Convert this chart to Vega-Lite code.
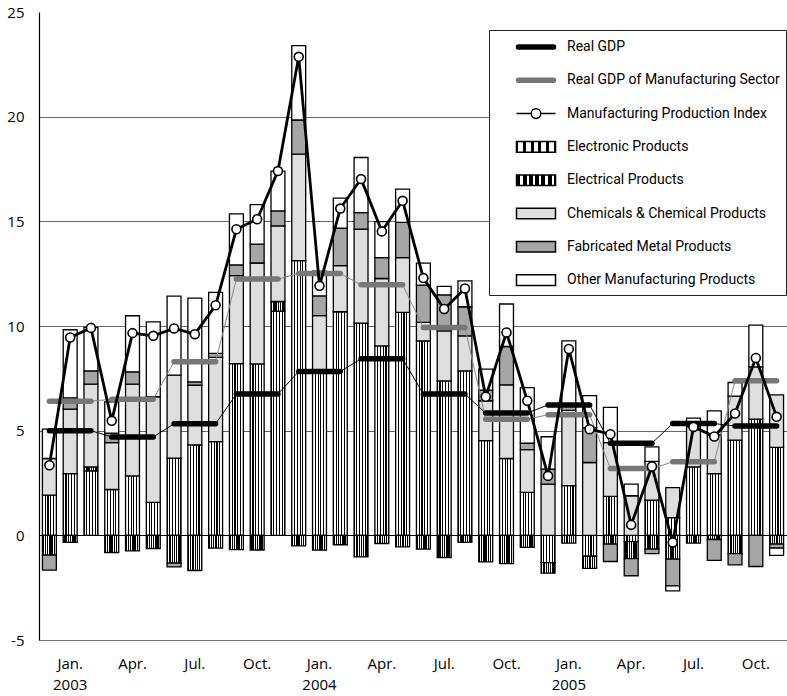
{
  "$schema": "https://vega.github.io/schema/vega-lite/v6.json",
  "width": 748,
  "height": 628,
  "autosize": {"type": "none"},
  "padding": {"left": 39, "top": 12, "right": 0, "bottom": 56},
  "background": "white",
  "config": {"view": {"stroke": null}, "font": "Open Sans"},
  "datasets": {
    "bars": [
      {"m": "2002-12", "s1": 1.92, "s2": -0.95, "s3": 1.75, "s4": -0.71, "s5": 1.4},
      {"m": "2003-01", "s1": 2.95, "s2": -0.34, "s3": 3.08, "s4": 0.54, "s5": 3.25},
      {"m": "2003-02", "s1": 3.08, "s2": 0.19, "s3": 3.95, "s4": 0.64, "s5": 2.07},
      {"m": "2003-03", "s1": 2.19, "s2": -0.82, "s3": 2.24, "s4": 0.45, "s5": 1.5},
      {"m": "2003-04", "s1": 2.84, "s2": -0.74, "s3": 4.38, "s4": 0.59, "s5": 2.68},
      {"m": "2003-05", "s1": 1.57, "s2": -0.63, "s3": 5.05, "s4": 0, "s5": 3.58},
      {"m": "2003-06", "s1": 3.69, "s2": -1.33, "s3": 3.96, "s4": -0.18, "s5": 3.78},
      {"m": "2003-07", "s1": 4.32, "s2": -1.68, "s3": 2.85, "s4": 0.16, "s5": 4.0},
      {"m": "2003-08", "s1": 4.48, "s2": -0.61, "s3": 4.02, "s4": 0.19, "s5": 2.92},
      {"m": "2003-09", "s1": 8.2, "s2": -0.68, "s3": 4.21, "s4": 0.51, "s5": 2.44},
      {"m": "2003-10", "s1": 8.19, "s2": -0.7, "s3": 4.82, "s4": 0.9, "s5": 1.89},
      {"m": "2003-11", "s1": 10.71, "s2": 0.46, "s3": 3.61, "s4": 0.72, "s5": 1.9},
      {"m": "2003-12", "s1": 13.12, "s2": -0.5, "s3": 5.09, "s4": 1.63, "s5": 3.55},
      {"m": "2004-01", "s1": 7.9, "s2": -0.71, "s3": 2.6, "s4": 0.94, "s5": 1.18},
      {"m": "2004-02", "s1": 10.68, "s2": -0.45, "s3": 2.2, "s4": 1.8, "s5": 1.43},
      {"m": "2004-03", "s1": 10.14, "s2": -1.03, "s3": 4.49, "s4": 0.79, "s5": 2.63},
      {"m": "2004-04", "s1": 9.05, "s2": -0.39, "s3": 3.22, "s4": 1.0, "s5": 1.72},
      {"m": "2004-05", "s1": 10.65, "s2": -0.55, "s3": 2.62, "s4": 1.68, "s5": 1.59},
      {"m": "2004-06", "s1": 9.29, "s2": -0.66, "s3": 0.88, "s4": 1.78, "s5": 1.05},
      {"m": "2004-07", "s1": 7.38, "s2": -1.06, "s3": 2.39, "s4": 1.72, "s5": 0.4},
      {"m": "2004-08", "s1": 7.86, "s2": -0.34, "s3": 1.67, "s4": 1.39, "s5": 1.24},
      {"m": "2004-09", "s1": 4.52, "s2": -1.27, "s3": 1.91, "s4": 0.51, "s5": 1.0},
      {"m": "2004-10", "s1": 3.67, "s2": -1.35, "s3": 3.52, "s4": 1.83, "s5": 2.03},
      {"m": "2004-11", "s1": 2.05, "s2": -0.58, "s3": 2.04, "s4": 0.31, "s5": 2.66},
      {"m": "2004-12", "s1": -1.3, "s2": -0.51, "s3": 2.45, "s4": 0.71, "s5": 1.55},
      {"m": "2005-01", "s1": 2.37, "s2": -0.37, "s3": 3.6, "s4": 0.3, "s5": 3.02},
      {"m": "2005-02", "s1": -1.0, "s2": -0.58, "s3": 3.48, "s4": 1.67, "s5": 1.52},
      {"m": "2005-03", "s1": 1.86, "s2": -0.42, "s3": 2.57, "s4": -0.83, "s5": 1.68},
      {"m": "2005-04", "s1": -0.3, "s2": -0.81, "s3": 1.89, "s4": -0.82, "s5": 0.56},
      {"m": "2005-05", "s1": 1.68, "s2": -0.66, "s3": 1.85, "s4": -0.21, "s5": 0.7},
      {"m": "2005-06", "s1": 0.85, "s2": -1.14, "s3": 1.43, "s4": -1.27, "s5": -0.24},
      {"m": "2005-07", "s1": 3.27, "s2": -0.37, "s3": 1.93, "s4": 0, "s5": 0.4},
      {"m": "2005-08", "s1": 2.95, "s2": -0.2, "s3": 1.85, "s4": -1.0, "s5": 1.15},
      {"m": "2005-09", "s1": 4.55, "s2": -0.87, "s3": 2.1, "s4": -0.54, "s5": 0.65},
      {"m": "2005-10", "s1": 5.55, "s2": 0, "s3": 2.5, "s4": -1.49, "s5": 1.99},
      {"m": "2005-11", "s1": 4.2, "s2": -0.42, "s3": 2.51, "s4": -0.19, "s5": -0.35}
    ],
    "lines": [
      {"m": "2002-12", "q": "Q01", "g": 5.0, "mg": 6.41, "p": 3.35},
      {"m": "2003-01", "q": "Q01", "g": 5.0, "mg": 6.41, "p": 9.45},
      {"m": "2003-02", "q": "Q01", "g": 5.0, "mg": 6.41, "p": 9.91},
      {"m": "2003-03", "q": "Q02", "g": 4.7, "mg": 6.5, "p": 5.47},
      {"m": "2003-04", "q": "Q02", "g": 4.7, "mg": 6.5, "p": 9.66},
      {"m": "2003-05", "q": "Q02", "g": 4.7, "mg": 6.5, "p": 9.53},
      {"m": "2003-06", "q": "Q03", "g": 5.33, "mg": 8.29, "p": 9.88},
      {"m": "2003-07", "q": "Q03", "g": 5.33, "mg": 8.29, "p": 9.61},
      {"m": "2003-08", "q": "Q03", "g": 5.33, "mg": 8.29, "p": 10.99},
      {"m": "2003-09", "q": "Q04", "g": 6.75, "mg": 12.24, "p": 14.62},
      {"m": "2003-10", "q": "Q04", "g": 6.75, "mg": 12.24, "p": 15.1},
      {"m": "2003-11", "q": "Q04", "g": 6.75, "mg": 12.24, "p": 17.4},
      {"m": "2003-12", "q": "Q05", "g": 7.83, "mg": 12.51, "p": 22.86},
      {"m": "2004-01", "q": "Q05", "g": 7.83, "mg": 12.51, "p": 11.92},
      {"m": "2004-02", "q": "Q05", "g": 7.83, "mg": 12.51, "p": 15.61},
      {"m": "2004-03", "q": "Q06", "g": 8.43, "mg": 11.97, "p": 17.02},
      {"m": "2004-04", "q": "Q06", "g": 8.43, "mg": 11.97, "p": 14.52},
      {"m": "2004-05", "q": "Q06", "g": 8.43, "mg": 11.97, "p": 15.98},
      {"m": "2004-06", "q": "Q07", "g": 6.75, "mg": 9.93, "p": 12.29},
      {"m": "2004-07", "q": "Q07", "g": 6.75, "mg": 9.93, "p": 10.81},
      {"m": "2004-08", "q": "Q07", "g": 6.75, "mg": 9.93, "p": 11.79},
      {"m": "2004-09", "q": "Q08", "g": 5.84, "mg": 5.55, "p": 6.62},
      {"m": "2004-10", "q": "Q08", "g": 5.84, "mg": 5.55, "p": 9.69},
      {"m": "2004-11", "q": "Q08", "g": 5.84, "mg": 5.55, "p": 6.43},
      {"m": "2004-12", "q": "Q09", "g": 6.23, "mg": 5.76, "p": 2.84},
      {"m": "2005-01", "q": "Q09", "g": 6.23, "mg": 5.76, "p": 8.9},
      {"m": "2005-02", "q": "Q09", "g": 6.23, "mg": 5.76, "p": 5.07},
      {"m": "2005-03", "q": "Q10", "g": 4.4, "mg": 3.19, "p": 4.83},
      {"m": "2005-04", "q": "Q10", "g": 4.4, "mg": 3.19, "p": 0.5},
      {"m": "2005-05", "q": "Q10", "g": 4.4, "mg": 3.19, "p": 3.29},
      {"m": "2005-06", "q": "Q11", "g": 5.34, "mg": 3.51, "p": -0.34},
      {"m": "2005-07", "q": "Q11", "g": 5.34, "mg": 3.51, "p": 5.18},
      {"m": "2005-08", "q": "Q11", "g": 5.34, "mg": 3.51, "p": 4.72},
      {"m": "2005-09", "q": "Q12", "g": 5.22, "mg": 7.38, "p": 5.82},
      {"m": "2005-10", "q": "Q12", "g": 5.22, "mg": 7.38, "p": 8.47},
      {"m": "2005-11", "q": "Q12", "g": 5.22, "mg": 7.38, "p": 5.66}
    ]
  },
  "encoding": {
    "x": {
      "field": "m",
      "type": "ordinal",
      "scale": {"paddingInner": 0.33, "paddingOuter": 0.165},
      "axis": {
        "title": null,
        "ticks": false,
        "tickSize": 0,
        "labelAngle": 0,
        "labelOverlap": false,
        "labelFont": "Open Sans",
        "labelFontSize": 15,
        "labelColor": "black",
        "labelBaseline": "top",
        "labelPadding": 16,
        "labelLineHeight": 21,
        "domainColor": "#777",
        "domainWidth": 1.2,
        "labelExpr": "slice(datum.value, 5) == '01' ? ['Jan.', slice(datum.value, 0, 4)] : slice(datum.value, 5) == '04' ? 'Apr.' : slice(datum.value, 5) == '07' ? 'Jul.' : slice(datum.value, 5) == '10' ? 'Oct.' : ''"
      }
    }
  },
  "layer": [
    {
      "data": {"name": "bars"},
      "transform": [
        {"fold": ["s1", "s2", "s3", "s4", "s5"], "as": ["k", "v"]},
        {"filter": "datum.v != 0"}
      ],
      "mark": {"type": "bar", "stroke": "black", "strokeWidth": 1.3},
      "encoding": {
        "y": {
          "field": "v",
          "type": "quantitative",
          "stack": "zero",
          "scale": {"domain": [-5, 25], "nice": false, "zero": false},
          "axis": {
            "title": null,
            "values": [-5, 0, 5, 10, 15, 20, 25],
            "labelExpr": "toString(datum.value)",
            "ticks": false,
            "tickSize": 0,
            "labelPadding": 15,
            "labelFont": "Open Sans",
            "labelFontSize": 15,
            "labelColor": "black",
            "domainColor": "black",
            "domainWidth": 1.2,
            "grid": true,
            "gridColor": {"condition": {"test": "datum.value === 0", "value": "black"}, "value": "#666"},
            "gridOpacity": {"condition": {"test": "datum.value === 25 || datum.value === -5", "value": 0}, "value": 1},
            "gridWidth": 1.2
          }
        },
        "fill": {
          "field": "k",
          "type": "nominal",
          "scale": {
            "domain": ["l1", "l2", "l3", "s1", "s2", "s3", "s4", "s5"],
            "range": [
              "black",
              "#777777",
              "white",
              {"expr": "{gradient: 'linear', x1: 0, y1: 0, x2: 1, y2: 0, stops: [{offset: 0, color: 'black'}, {offset: 0.04, color: 'black'}, {offset: 0.04, color: 'white'}, {offset: 0.16, color: 'white'}, {offset: 0.16, color: 'black'}, {offset: 0.24, color: 'black'}, {offset: 0.24, color: 'white'}, {offset: 0.36, color: 'white'}, {offset: 0.36, color: 'black'}, {offset: 0.44, color: 'black'}, {offset: 0.44, color: 'white'}, {offset: 0.56, color: 'white'}, {offset: 0.56, color: 'black'}, {offset: 0.64, color: 'black'}, {offset: 0.64, color: 'white'}, {offset: 0.76, color: 'white'}, {offset: 0.76, color: 'black'}, {offset: 0.84, color: 'black'}, {offset: 0.84, color: 'white'}, {offset: 0.96, color: 'white'}, {offset: 0.96, color: 'black'}, {offset: 1, color: 'black'}]}"},
              {"expr": "{gradient: 'linear', x1: 0, y1: 0, x2: 1, y2: 0, stops: [{offset: 0, color: 'black'}, {offset: 0.1, color: 'black'}, {offset: 0.1, color: 'white'}, {offset: 0.16, color: 'white'}, {offset: 0.16, color: 'black'}, {offset: 0.26, color: 'black'}, {offset: 0.26, color: 'white'}, {offset: 0.32, color: 'white'}, {offset: 0.32, color: 'black'}, {offset: 0.42, color: 'black'}, {offset: 0.42, color: 'white'}, {offset: 0.48, color: 'white'}, {offset: 0.48, color: 'black'}, {offset: 0.58, color: 'black'}, {offset: 0.58, color: 'white'}, {offset: 0.64, color: 'white'}, {offset: 0.64, color: 'black'}, {offset: 0.74, color: 'black'}, {offset: 0.74, color: 'white'}, {offset: 0.8, color: 'white'}, {offset: 0.8, color: 'black'}, {offset: 0.9, color: 'black'}, {offset: 0.9, color: 'white'}, {offset: 0.96, color: 'white'}, {offset: 0.96, color: 'black'}, {offset: 1, color: 'black'}]}"},
              "#dedede",
              "#a6a6a6",
              "white"
            ]
          },
          "legend": {
            "orient": "none",
            "legendX": 450,
            "legendY": 18,
            "title": null,
            "direction": "vertical",
            "fillColor": "white",
            "strokeColor": "#222",
            "padding": 6,
            "symbolSize": 400,
            "symbolStrokeWidth": 1.5,
            "symbolType": {"expr": "datum.value == 'l1' || datum.value == 'l2' ? 'M-1.95,-0.53M-1.95,0.53M-1.75,-0.2H1.75A0.2,0.2,0,0,1,1.75,0.2H-1.75A0.2,0.2,0,0,1,-1.75,-0.2Z' : datum.value == 'l3' ? 'M-1.95,-0.53M-1.95,0.53M-1.95,0H-0.48M0.48,0H1.95M0.48,0A0.48,0.48,0,1,1,-0.48,0A0.48,0.48,0,1,1,0.48,0' : 'M-1.95,-0.53H1.95V0.53H-1.95Z'"},
            "symbolStrokeColor": {"expr": "datum.value == 'l2' ? '#777777' : 'black'"},
            "symbolOffset": 30,
            "labelOffset": 20,
            "rowPadding": 13.3,
            "labelFont": "Roboto",
            "labelFontSize": 14,
            "labelColor": "black",
            "labelLimit": 500,
            "labelExpr": "datum.value == 'l1' ? 'Real GDP' : datum.value == 'l2' ? 'Real GDP of Manufacturing Sector' : datum.value == 'l3' ? 'Manufacturing Production Index' : datum.value == 's1' ? 'Electronic Products' : datum.value == 's2' ? 'Electrical Products' : datum.value == 's3' ? 'Chemicals & Chemical Products' : datum.value == 's4' ? 'Fabricated Metal Products' : 'Other Manufacturing Products'"
          }
        },
        "order": {"field": "k", "sort": "ascending"}
      }
    },
    {
      "data": {"name": "lines"},
      "mark": {"type": "line", "color": "black", "strokeWidth": 1},
      "encoding": {"y": {"field": "g", "type": "quantitative", "axis": {"title": null}}}
    },
    {
      "data": {"name": "lines"},
      "mark": {"type": "line", "color": "#888888", "strokeWidth": 1},
      "encoding": {"y": {"field": "mg", "type": "quantitative", "axis": {"title": null}}}
    },
    {
      "data": {"name": "lines"},
      "mark": {"type": "line", "color": "#777777", "strokeWidth": 5.5, "strokeCap": "round"},
      "encoding": {
        "y": {"field": "mg", "type": "quantitative", "axis": {"title": null}},
        "detail": {"field": "q"}
      }
    },
    {
      "data": {"name": "lines"},
      "mark": {"type": "line", "color": "black", "strokeWidth": 5.5, "strokeCap": "round"},
      "encoding": {
        "y": {"field": "g", "type": "quantitative", "axis": {"title": null}},
        "detail": {"field": "q"}
      }
    },
    {
      "data": {"name": "lines"},
      "mark": {"type": "line", "color": "black", "strokeWidth": 2.8},
      "encoding": {"y": {"field": "p", "type": "quantitative", "axis": {"title": null}}}
    },
    {
      "data": {"name": "lines"},
      "mark": {"type": "point", "shape": "circle", "size": 80, "filled": true, "fill": "white", "stroke": "black", "strokeWidth": 1.6, "opacity": 1},
      "encoding": {"y": {"field": "p", "type": "quantitative", "axis": {"title": null}}}
    }
  ]
}
